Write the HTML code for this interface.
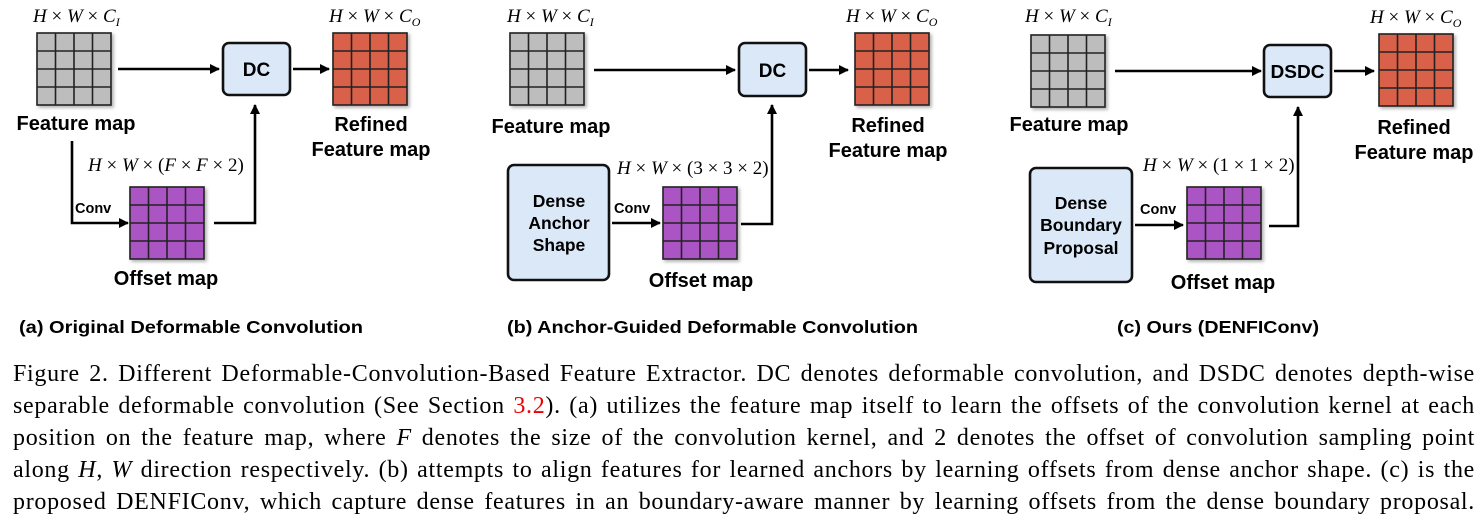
<!DOCTYPE html>
<html><head><meta charset="utf-8"><style>
html,body{margin:0;padding:0;background:#fff;}
body{width:1483px;height:525px;position:relative;overflow:hidden;}
svg{position:absolute;left:0;top:0;}
.cap{position:absolute;left:13px;width:1462px;font-family:"Liberation Serif",serif;font-size:24px;letter-spacing:0.7px;line-height:32px;color:#000;}
.cap div{height:32px;white-space:nowrap;text-align:justify;text-align-last:justify;}
.b{font-family:"Liberation Sans",sans-serif;font-weight:bold;fill:#000;}
.m{font-family:"Liberation Serif",serif;font-style:italic;font-size:19px;fill:#000;}
.r{font-family:"Liberation Serif",serif;font-style:normal;}
</style></head><body>
<svg width="1483" height="525" viewBox="0 0 1483 525">
<defs>
<marker id="ah" markerWidth="10" markerHeight="10" refX="9" refY="5" orient="auto" markerUnits="userSpaceOnUse">
<path d="M0,0 L10,5 L0,10 z" fill="#000"/></marker>
<filter id="sh" x="-10%" y="-10%" width="130%" height="130%"><feDropShadow dx="2" dy="2" stdDeviation="1.5" flood-color="#000" flood-opacity="0.3"/></filter>
<g id="grid">
<rect x="0" y="0" width="74" height="72" stroke="#222" stroke-width="1.6"/>
<path d="M18.5,0V72M37,0V72M55.5,0V72M0,18H74M0,36H74M0,54H74" stroke="#222" stroke-width="1.6" fill="none"/>
</g>
</defs>
<g stroke="#000" stroke-width="2.6" fill="none">
<path d="M118,69H219" marker-end="url(#ah)"/>
<path d="M293,69H329" marker-end="url(#ah)"/>
<path d="M72,141V223H128" marker-end="url(#ah)"/>
<path d="M214,223H255V105" marker-end="url(#ah)"/>
<path d="M594,70H735" marker-end="url(#ah)"/>
<path d="M809,70H848" marker-end="url(#ah)"/>
<path d="M612,223H660" marker-end="url(#ah)"/>
<path d="M741,224H772V105" marker-end="url(#ah)"/>
<path d="M1115,71H1261" marker-end="url(#ah)"/>
<path d="M1334,71H1374" marker-end="url(#ah)"/>
<path d="M1135,225H1183" marker-end="url(#ah)"/>
<path d="M1269,226H1298V107" marker-end="url(#ah)"/>
</g>
<g filter="url(#sh)">
<use href="#grid" x="37" y="33" fill="#bdbdbd"/>
<use href="#grid" x="333" y="33" fill="#d9604a"/>
<use href="#grid" x="130" y="187" fill="#ab55c4"/>
<use href="#grid" x="510" y="33" fill="#bdbdbd"/>
<use href="#grid" x="855" y="33" fill="#d9604a"/>
<use href="#grid" x="663" y="187" fill="#ab55c4"/>
<use href="#grid" x="1031" y="35" fill="#bdbdbd"/>
<use href="#grid" x="1379" y="34" fill="#d9604a"/>
<use href="#grid" x="1187" y="187" fill="#ab55c4"/>
</g>
<g fill="#dbe8f8" stroke="#111" stroke-width="2.6">
<rect x="223" y="43" width="67" height="52" rx="6"/>
<rect x="739" y="43" width="67" height="53" rx="6"/>
<rect x="1264" y="45" width="67" height="52" rx="6"/>
<rect x="508" y="165" width="101" height="115" rx="6"/>
<rect x="1030" y="168" width="102" height="114" rx="6"/>
</g>
<g class="b" text-anchor="middle">
<text x="256.5" y="76" font-size="19">DC</text>
<text x="772.5" y="77" font-size="19">DC</text>
<text x="1297.5" y="78" font-size="18" textLength="54" lengthAdjust="spacingAndGlyphs">DSDC</text>
<text x="559" y="207" font-size="17.5">Dense</text>
<text x="559" y="229" font-size="17.5">Anchor</text>
<text x="559" y="251" font-size="17.5">Shape</text>
<text x="1081" y="209" font-size="17.5">Dense</text>
<text x="1081" y="231" font-size="17.5">Boundary</text>
<text x="1081" y="254" font-size="17.5">Proposal</text>
<text x="76" y="130" font-size="20">Feature map</text>
<text x="371" y="131" font-size="20">Refined</text>
<text x="371" y="156" font-size="20">Feature map</text>
<text x="166" y="285" font-size="20">Offset map</text>
<text x="551" y="133" font-size="20">Feature map</text>
<text x="888" y="132" font-size="20">Refined</text>
<text x="888" y="157" font-size="20">Feature map</text>
<text x="701" y="287" font-size="20">Offset map</text>
<text x="1069" y="131" font-size="20">Feature map</text>
<text x="1414" y="134" font-size="20">Refined</text>
<text x="1414" y="159" font-size="20">Feature map</text>
<text x="1223" y="289" font-size="20">Offset map</text>
</g>
<g class="b" font-size="14.5">
<text x="75" y="213">Conv</text>
<text x="614" y="213">Conv</text>
<text x="1140" y="214">Conv</text>
</g>
<g class="b" font-size="17.5">
<text x="19" y="333" textLength="344" lengthAdjust="spacingAndGlyphs">(a) Original Deformable Convolution</text>
<text x="507" y="333" textLength="411" lengthAdjust="spacingAndGlyphs">(b) Anchor-Guided Deformable Convolution</text>
<text x="1117" y="333" textLength="202" lengthAdjust="spacingAndGlyphs">(c) Ours (DENFIConv)</text>
</g>
<g class="m">
<text x="33" y="22">H <tspan class="r">×</tspan> W <tspan class="r">×</tspan> C<tspan font-size="12" dy="4">I</tspan></text>
<text x="329" y="22">H <tspan class="r">×</tspan> W <tspan class="r">×</tspan> C<tspan font-size="12" dy="4">O</tspan></text>
<text x="88" y="171">H <tspan class="r">×</tspan> W <tspan class="r">× (</tspan>F <tspan class="r">×</tspan> F <tspan class="r">× 2)</tspan></text>
<text x="507" y="22">H <tspan class="r">×</tspan> W <tspan class="r">×</tspan> C<tspan font-size="12" dy="4">I</tspan></text>
<text x="846" y="22">H <tspan class="r">×</tspan> W <tspan class="r">×</tspan> C<tspan font-size="12" dy="4">O</tspan></text>
<text x="617" y="174">H <tspan class="r">×</tspan> W <tspan class="r">× (3 × 3 × 2)</tspan></text>
<text x="1025" y="22">H <tspan class="r">×</tspan> W <tspan class="r">×</tspan> C<tspan font-size="12" dy="4">I</tspan></text>
<text x="1370" y="23">H <tspan class="r">×</tspan> W <tspan class="r">×</tspan> C<tspan font-size="12" dy="4">O</tspan></text>
<text x="1143" y="171">H <tspan class="r">×</tspan> W <tspan class="r">× (1 × 1 × 2)</tspan></text>
</g>
</svg>
<div class="cap" style="top:358px;">
<div>Figure 2. Different Deformable-Convolution-Based Feature Extractor. DC denotes deformable convolution, and DSDC denotes depth-wise</div>
<div>separable deformable convolution (See Section <span style="color:#e00">3.2</span>). (a) utilizes the feature map itself to learn the offsets of the convolution kernel at each</div>
<div>position on the feature map, where <i>F</i> denotes the size of the convolution kernel, and 2 denotes the offset of convolution sampling point</div>
<div>along <i>H</i>, <i>W</i> direction respectively. (b) attempts to align features for learned anchors by learning offsets from dense anchor shape. (c) is the</div>
<div>proposed DENFIConv, which capture dense features in an boundary-aware manner by learning offsets from the dense boundary proposal.</div>
</div>
</body></html>
